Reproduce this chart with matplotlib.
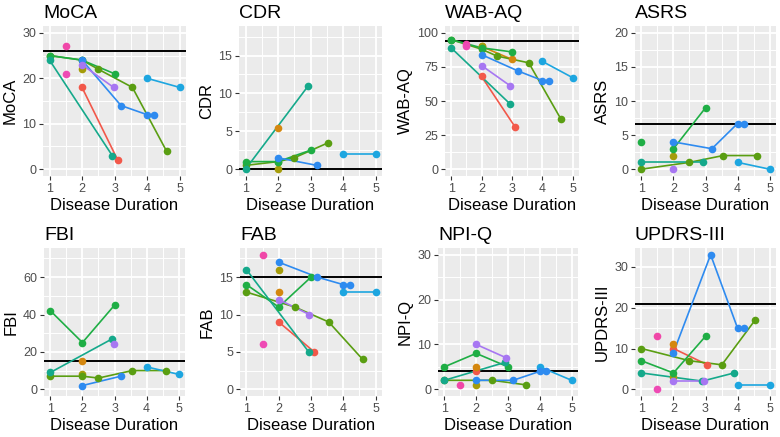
import numpy as np
import matplotlib
matplotlib.use("Agg")
import matplotlib.pyplot as plt

plt.rcParams["font.family"] = ["Liberation Sans", "DejaVu Sans"]

# patient colours (ggplot hue-like)
colors = {
    "P1": "#F2584A",   # red
    "P2": "#D4870F",   # orange
    "P3": "#A59C0A",   # olive
    "P4": "#5A9E12",   # dark green
    "P5": "#1FAE45",   # green
    "P5b": "#1FAE45",
    "P6": "#15A98B",   # teal
    "P7": "#1DA6E0",   # light blue
    "P8": "#2E8BF0",   # blue
    "P9": "#A777F2",   # purple
    "P10": "#F047A8",  # magenta
    "P11": "#EE4AB4",
}

# data: patient -> (disease duration, score)
moca = {
    "P1": ([2, 3.1], [18, 2]),
    "P3": ([2], [22]),
    "P4": ([1, 2, 2.5, 3.55, 4.6], [25, 24, 22, 18, 4]),
    "P5": ([1, 2, 3], [25, 24, 21]),
    "P6": ([1, 2.93], [24, 3]),
    "P7": ([4, 5], [20, 18]),
    "P8": ([2, 3.2, 4, 4.2], [24, 14, 12, 12]),
    "P9": ([2, 2.97], [23, 18]),
    "P10": ([1.5], [27]),
    "P11": ([1.5], [21]),
}
cdr = {
    "P2": ([2], [5.5]),
    "P3": ([2], [0]),
    "P4": ([1, 2, 2.5, 3.55], [0.5, 1, 1.5, 3.5]),
    "P5": ([1, 2, 3], [1, 1, 2.5]),
    "P6": ([1, 2.93], [0, 11]),
    "P7": ([4, 5], [2, 2]),
    "P8": ([2, 3.2], [1.5, 0.5]),
}
wab = {
    "P1": ([2, 3.1], [68, 31]),
    "P2": ([2, 3], [90, 80.5]),
    "P3": ([2], [90]),
    "P4": ([1, 2, 2.5, 3.55, 4.6], [95, 88, 83, 78, 37]),
    "P5": ([1, 2, 3], [95, 89, 86]),
    "P6": ([1, 2.93], [89, 48]),
    "P7": ([4, 5], [79, 67]),
    "P8": ([2, 3.2, 4, 4.2], [84, 72, 65, 65]),
    "P9": ([2, 2.95], [76, 61]),
    "P10": ([1.5], [92]),
    "P11": ([1.5], [90]),
}
asrs = {
    "P3": ([2], [2]),
    "P4": ([1, 2.5, 3.55, 4.6], [0, 1, 2, 2]),
    "P5b": ([1], [4]),
    "P5": ([2, 3], [3, 9]),
    "P6": ([1, 2.93], [1, 1]),
    "P7": ([4, 5], [1, 0]),
    "P8": ([2, 3.2, 4, 4.2], [4, 3, 6.7, 6.7]),
    "P9": ([2], [0]),
}
fbi = {
    "P2": ([2], [15]),
    "P3": ([2], [8]),
    "P4": ([1, 2, 2.5, 3.55, 4.6], [7, 7, 6, 10, 10]),
    "P5": ([1, 2, 3], [42, 25, 45]),
    "P6": ([1, 2.93], [9, 27]),
    "P7": ([4, 5], [12, 8]),
    "P8": ([2, 3.2], [2, 7]),
    "P9": ([2.97], [24]),
}
fab = {
    "P1": ([2, 3.1], [9, 5]),
    "P2": ([2], [13]),
    "P3": ([2], [16]),
    "P4": ([1, 2.5, 3.55, 4.6], [13, 11, 9, 4]),
    "P5": ([1, 2, 3], [14, 11, 15]),
    "P6": ([1, 2.93], [16, 5]),
    "P7": ([4, 5], [13, 13]),
    "P8": ([2, 3.2, 4, 4.2], [17, 15, 14, 14]),
    "P9": ([2, 2.95], [12, 10]),
    "P10": ([1.5], [18]),
    "P11": ([1.5], [6]),
}
npiq = {
    "P1": ([2], [4]),
    "P2": ([2], [5]),
    "P3": ([2], [1]),
    "P4": ([1, 2.5, 3.55], [2, 2, 1]),
    "P5": ([1, 2, 3], [5, 8, 5]),
    "P6": ([1, 2.91], [2, 6]),
    "P7": ([4, 5], [5, 2]),
    "P8": ([2, 3.16, 4, 4.2], [2, 2, 4, 4]),
    "P9": ([2, 2.95], [10, 7]),
    "P10": ([1.5], [1]),
}
updrs = {
    "P1": ([2, 3.06], [10, 6]),
    "P2": ([2], [11]),
    "P3": ([2], [3]),
    "P4": ([1, 2.5, 3.51, 4.55], [10, 7, 6, 17]),
    "P5": ([1, 2, 3], [7, 4, 13]),
    "P6": ([1, 2.9, 3.89], [4, 2, 4]),
    "P7": ([4, 5], [1, 1]),
    "P8": ([2, 3.16, 4, 4.2], [9, 33, 15, 15]),
    "P9": ([2, 2.95], [2, 2]),
    "P10": ([1.5], [13]),
    "P11": ([1.5], [0]),
}

# name, data, cutoff, y limits, y ticks, panel box in pixels (left, top, right, bottom)
panels = [
    ("MoCA", moca, 26, (-1.5, 31.5), [0, 10, 20, 30], (43, 26, 186, 176)),
    ("CDR", cdr, 0, (-0.9, 18.9), [0, 5, 10, 15], (239, 26, 382, 176)),
    ("WAB-AQ", wab, 94, (-5, 105), [0, 25, 50, 75, 100], (445, 26, 579, 176)),
    ("ASRS", asrs, 6.7, (-1, 21), [0, 5, 10, 15, 20], (635, 26, 776, 176)),
    ("FBI", fbi, 15, (-3.6, 75.6), [0, 20, 40, 60], (44, 248, 185, 396)),
    ("FAB", fab, 15, (-0.9, 18.9), [0, 5, 10, 15], (240, 248, 382, 396)),
    ("NPI-Q", npiq, 4, (-1.5, 31.5), [0, 10, 20, 30], (438, 248, 578, 396)),
    ("UPDRS-III", updrs, 21, (-1.65, 34.65), [0, 10, 20, 30], (635, 248, 776, 396)),
]

W, H = 780, 437
fig = plt.figure(figsize=(W / 100, H / 100), dpi=100)

for name, data, cut, ylim, yticks, (l, t, r, b) in panels:
    ax = fig.add_axes([l / W, 1 - b / H, (r - l) / W, (b - t) / H])
    ax.set_facecolor("#EBEBEB")
    for s in ax.spines.values():
        s.set_visible(False)

    ax.set_xlim(0.8, 5.2)
    ax.set_ylim(*ylim)
    ax.set_xticks([1, 2, 3, 4, 5])
    ax.set_yticks(yticks)
    step = yticks[1] - yticks[0]
    ymin = [v for v in np.arange(yticks[0] - step / 2, yticks[-1] + step, step)
            if ylim[0] < v < ylim[1]]
    ax.set_xticks([1.5, 2.5, 3.5, 4.5], minor=True)
    ax.set_yticks(ymin, minor=True)
    ax.grid(which="major", color="white", lw=1.3)
    ax.grid(which="minor", color="white", lw=0.7)
    ax.set_axisbelow(True)
    ax.tick_params(which="major", length=3, width=0.8, color="#333333",
                   labelsize=9, labelcolor="#4D4D4D", pad=2)
    ax.tick_params(which="minor", length=0)

    ax.axhline(cut, color="black", lw=1.4, zorder=2)

    for pid, (xs, ys) in data.items():
        ax.plot(xs, ys, color=colors[pid], lw=1.2, zorder=3)
    for pid, (xs, ys) in data.items():
        ax.plot(xs, ys, "o", color=colors[pid], ms=5.5, mec="none", zorder=4)

    ax.set_title(name, loc="left", fontsize=14, pad=6)
    ax.set_ylabel(name, fontsize=12, labelpad=3)
    ax.set_xlabel("Disease Duration", fontsize=12, labelpad=2)

fig.savefig("out.png", dpi=100)
